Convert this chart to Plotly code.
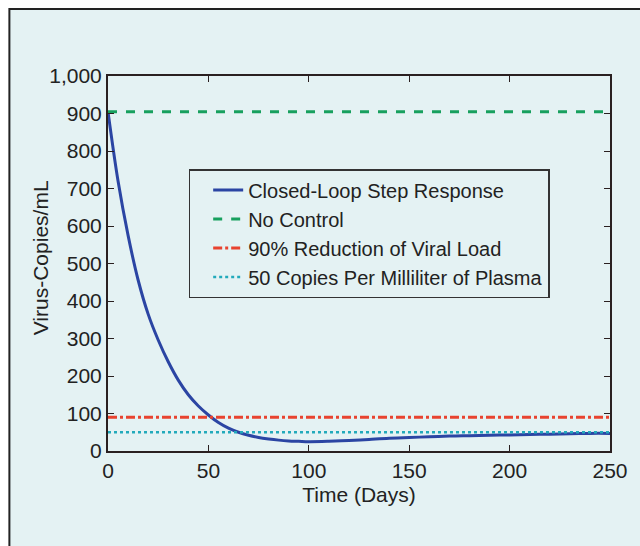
import plotly.graph_objects as go

# Data
days = [0, 5, 10, 15, 20, 25, 30, 35, 40, 45, 50, 55, 60, 65, 70, 75, 80, 85, 90, 95,
        100, 110, 120, 130, 140, 150, 160, 170, 180, 190, 200, 210, 220, 230, 240, 250]
closed_loop = [905, 720, 575, 456, 365, 296, 238, 189, 150, 120, 96, 76, 61, 50, 42, 36,
               32, 29, 27, 26, 25, 26, 28, 31, 34, 36, 38, 40, 41, 42, 43, 44, 45, 46, 47, 47]
limit_days = [0, 250]
no_control = [905, 905]
reduction_90 = [90, 90]
copies_50 = [50, 50]

series_names = ["Closed-Loop Step Response", "No Control",
                "90% Reduction of Viral Load", "50 Copies Per Milliliter of Plasma"]
x_ticks = [0, 50, 100, 150, 200, 250]
y_ticks = list(range(0, 1001, 100))
y_tick_text = ["0", "100", "200", "300", "400", "500", "600", "700", "800", "900", "1,000"]
x_title = "Time (Days)"
y_title = "Virus-Copies/mL"

BG = "#e4f2f3"
FONT = "Liberation Sans, Arial, sans-serif"
AX = "#2a2020"

fig = go.Figure()
fig.add_trace(go.Scatter(x=days, y=closed_loop, mode="lines", name=series_names[0],
                         line=dict(color="#2b45a3", width=3, shape="spline")))
fig.add_trace(go.Scatter(x=limit_days, y=no_control, mode="lines", name=series_names[1],
                         line=dict(color="#17a05e", width=3, dash="dash")))
fig.add_trace(go.Scatter(x=limit_days, y=reduction_90, mode="lines", name=series_names[2],
                         line=dict(color="#e8432f", width=3, dash="dashdot")))
fig.add_trace(go.Scatter(x=limit_days, y=copies_50, mode="lines", name=series_names[3],
                         line=dict(color="#22aabb", width=2.5, dash="dot")))

fig.update_layout(
    width=640, height=546,
    margin=dict(l=108, r=28, t=76, b=95),
    paper_bgcolor="white",
    plot_bgcolor=BG,
    font=dict(family=FONT, size=21, color="#222"),
    showlegend=True,
    legend=dict(x=(189 - 108) / 504, y=(451 - 169) / 375, xanchor="left", yanchor="top",
                bgcolor=BG, bordercolor="#333", borderwidth=1.5,
                font=dict(size=20, color="#222"), indentation=18,
                tracegroupgap=0),
    shapes=[
        dict(type="rect", xref="paper", yref="paper",
             x0=(9 - 108) / 504, x1=(660 - 108) / 504,
             y0=(451 - 560) / 375, y1=(451 - 9) / 375,
             line=dict(color="#222", width=2), fillcolor=BG, layer="below"),
    ],
    annotations=[
        dict(text=y_title, xref="paper", yref="paper",
             x=(40 - 108) / 504, y=(451 - 258) / 375, xanchor="center", yanchor="middle",
             textangle=-90, showarrow=False, font=dict(size=21, color="#222")),
    ],
)
fig.update_xaxes(range=[0, 250], tickvals=x_ticks, ticks="inside", ticklen=6,
                 tickcolor=AX, showline=True, linecolor=AX, linewidth=2, mirror="ticks",
                 showgrid=False, zeroline=False,
                 title=dict(text=x_title, standoff=6, font=dict(size=21)),
                 tickfont=dict(size=21))
fig.update_yaxes(range=[0, 1000], tickvals=y_ticks, ticktext=y_tick_text, ticks="inside",
                 ticklen=6, tickcolor=AX, showline=True, linecolor=AX, linewidth=2,
                 mirror="ticks", showgrid=False, zeroline=False,
                 tickfont=dict(size=21))

fig.write_html("out.html", config={"displayModeBar": False},
               post_script="document.body.style.margin='0';")
